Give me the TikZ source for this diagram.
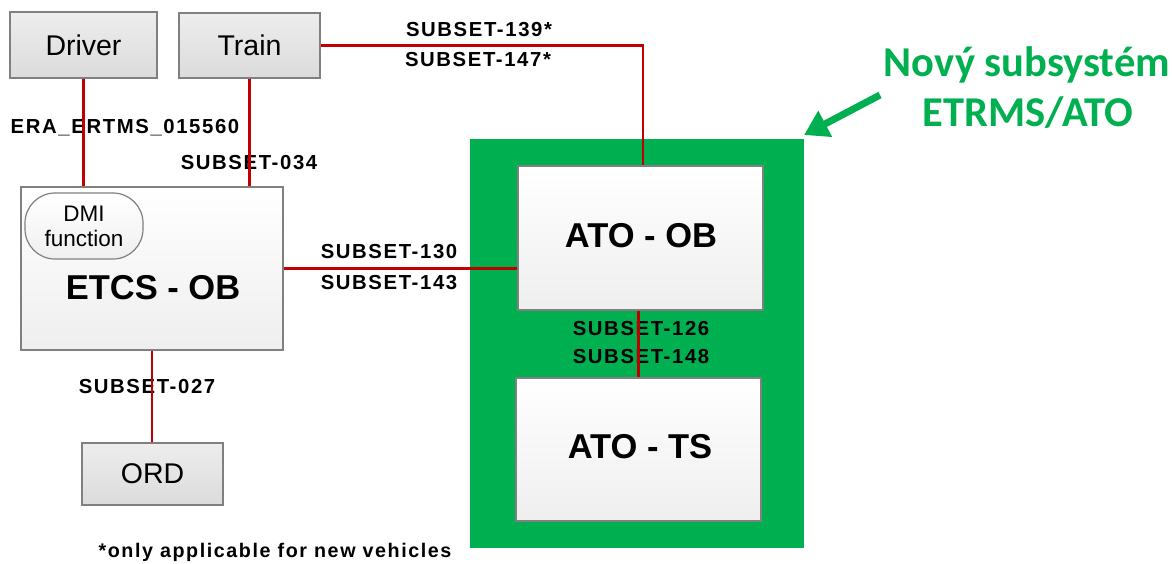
\documentclass[tikz,border=0pt]{standalone}
\usepackage{fontspec}
\setmainfont{Liberation Sans}
\newfontfamily\lblfont[LetterSpace=8]{Liberation Sans}
\newfontfamily\calfont{Carlito}
\usetikzlibrary{arrows.meta}
\definecolor{offgreen}{HTML}{00B050}
\definecolor{linkred}{HTML}{C00000}
\definecolor{boxline}{HTML}{808080}
\tikzset{
  graybox/.style={draw=boxline, line width=1.5pt, top color=gray!14, bottom color=gray!28, inner sep=0pt,
    font=\fontsize{28.5}{32}\selectfont},
  whitebox/.style={draw=boxline, line width=1.5pt, top color=white, bottom color=gray!13, inner sep=0pt},
  bigtext/.style={font=\fontsize{34.5}{38}\selectfont\bfseries},
  lbl/.style={font=\lblfont\bfseries\fontsize{20.3}{23}\selectfont, inner sep=0pt},
  link/.style={draw=linkred, line width=2.5pt},
  notetext/.style={text=offgreen, font=\calfont\bfseries\fontsize{42.5}{47}\selectfont, inner sep=0pt}
}
\begin{document}
\begin{tikzpicture}[x=1pt,y=-1pt]
\useasboundingbox (0,0) rectangle (1172,563);
% green subsystem frame
\fill[offgreen] (470,139) rectangle (804,548);
% boxes
\node[graybox, minimum width=147pt, minimum height=66pt] (driver) at (83.5,45) {Driver};
\node[graybox, minimum width=141pt, minimum height=65pt] (train) at (249.5,45.5) {Train};
\node[whitebox, minimum width=262pt, minimum height=163pt] (etcs) at (152,268.5) {};
\node[draw=boxline, line width=1.2pt, top color=white, bottom color=gray!12, rounded corners=30pt,
  minimum width=118pt, minimum height=66pt, inner sep=0pt, align=center,
  font=\fontsize{22.5}{25}\selectfont] (dmi) at (84,226) {DMI\\function};
\node[bigtext, inner sep=0pt] (etcstext) at (153,288) {ETCS - OB};
\node[graybox, minimum width=141pt, minimum height=62pt] (ord) at (152.5,474) {ORD};
\node[whitebox, minimum width=245pt, minimum height=144pt] (atoob) at (640.5,238) {};
\node[bigtext, inner sep=0pt] (atoobtext) at (641,236) {ATO - OB};
\node[whitebox, minimum width=245pt, minimum height=143pt] (atots) at (638.5,449.5) {};
\node[bigtext, inner sep=0pt] (atotstext) at (640,447) {ATO - TS};
% labels
\node[lbl] (l139) at (479,30) {SUBSET-139*};
\node[lbl] (l147) at (478,60) {SUBSET-147*};
\node[lbl] (lera) at (125,128) {ERA\_ERTMS\_015560};
\node[lbl] (l034) at (249,163) {SUBSET-034};
\node[lbl] (l130) at (389,252) {SUBSET-130};
\node[lbl] (l143) at (389,283) {SUBSET-143};
\node[lbl] (l126) at (641,329) {SUBSET-126};
\node[lbl] (l148) at (641,357) {SUBSET-148};
\node[lbl] (l027) at (147,387) {SUBSET-027};
\node[lbl, font=\lblfont\bfseries\fontsize{19.7}{23}\selectfont] (foot) at (275,552) {*only applicable for new vehicles};
% links
\draw[link] (driver.south) -- (driver.south |- etcs.north);
\draw[link] (train.south) -- (train.south |- etcs.north);
\draw[link] (train.east) -| ([xshift=2.5pt]atoob.north);
\draw[link] (etcs.east) -- (etcs.east -| atoob.west);
\draw[link] (etcs.south) -- (etcs.south |- ord.north);
\draw[link] (atots.north |- atoob.south) -- (atots.north);
% note
\node[notetext] (note1) at (1027,65) {Nový subsystém};
\node[notetext] (note2) at (1028,113) {ETRMS/ATO};
\coordinate (arrtail) at (880,95);
\coordinate (arrhead) at (804,135);
\draw[offgreen, line width=7pt, -{Triangle[length=24pt, width=28pt]}] (arrtail) -- (arrhead);
\end{tikzpicture}
\end{document}
